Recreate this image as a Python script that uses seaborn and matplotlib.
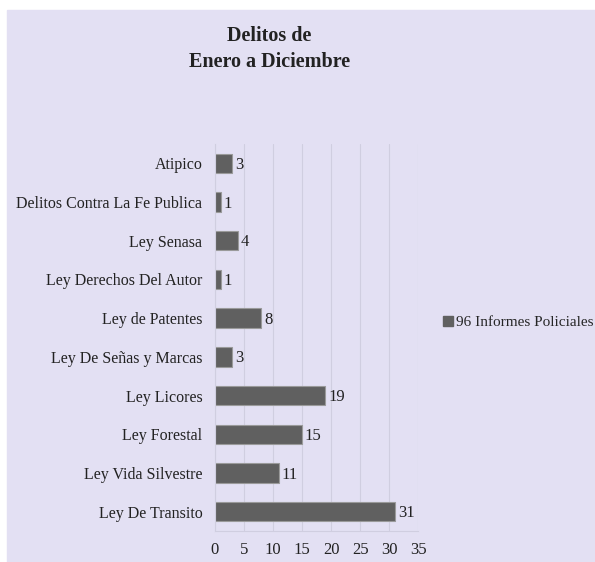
import numpy as np
import pandas as pd
import matplotlib.pyplot as plt
import seaborn as sns
from matplotlib.lines import Line2D

categorias = ["Atipico", "Delitos Contra La Fe Publica", "Ley Senasa",
              "Ley Derechos Del Autor", "Ley de Patentes", "Ley De Señas y Marcas",
              "Ley Licores", "Ley Forestal", "Ley Vida Silvestre", "Ley De Transito"]
valores = [3, 1, 4, 1, 8, 3, 19, 15, 11, 31]
serie = "96 Informes Policiales"
xticks = [0, 5, 10, 15, 20, 25, 30, 35]

fondo = "#e3e0f3"
barra = "#606060"

df = pd.DataFrame({"delito": categorias, "cantidad": valores})

sns.set_style("white")
plt.rcParams["font.family"] = ["Liberation Serif", "DejaVu Serif"]

fig = plt.figure(figsize=(5.95, 5.62), dpi=100)
fig.patch.set_facecolor("white")
# fondo lavanda con borde blanco arriba/izquierda
fig.patches.append(plt.Rectangle((7 / 595, 0), 1, 1 - 10 / 562,
                                 transform=fig.transFigure, color=fondo, zorder=-5))

ax = fig.add_axes([0.361, 0.055, 0.342, 0.689])
ax.patch.set_alpha(0)

sns.barplot(data=df, y="delito", x="cantidad", orient="h", color=barra,
            width=0.5, edgecolor="#9a9a9a", linewidth=0.8, saturation=1, ax=ax)

for i, v in enumerate(valores):
    ax.text(v + 0.5, i + 0.04, str(v), va="center", ha="left", fontsize=12, color="#222222")

ax.set_xlim(0, 35)
ax.set_xticks(xticks)
ax.set_xlabel("")
ax.set_ylabel("")
ax.tick_params(axis="x", length=0, labelsize=12, pad=8, colors="#222222")
ax.tick_params(axis="y", length=0, labelsize=11.5, pad=9, colors="#222222")
ax.set_yticks(np.arange(-0.5, len(categorias), 1), minor=True)
ax.tick_params(axis="y", which="minor", length=3, color="#cfcfdc", width=0.8)
ax.grid(axis="x", color="#d0cee0", linewidth=0.8)
ax.set_axisbelow(True)
for s in ["top", "right"]:
    ax.spines[s].set_visible(False)
for s in ["left", "bottom"]:
    ax.spines[s].set_color("#d0cee0")
    ax.spines[s].set_linewidth(0.8)

fig.text(0.453, 0.913, "Delitos de\nEnero a Diciembre", ha="center", va="center",
         fontsize=14.5, fontweight="bold", linespacing=1.45, color="#222222")

handle = Line2D([], [], marker="s", linestyle="", color=barra, markersize=6.5)
fig.legend([handle], [serie], loc="center left", bbox_to_anchor=(0.72, 0.427),
           frameon=False, fontsize=11, handletextpad=0.1, handlelength=0.8)

fig.savefig("out.png", dpi=100, facecolor=fig.get_facecolor())
